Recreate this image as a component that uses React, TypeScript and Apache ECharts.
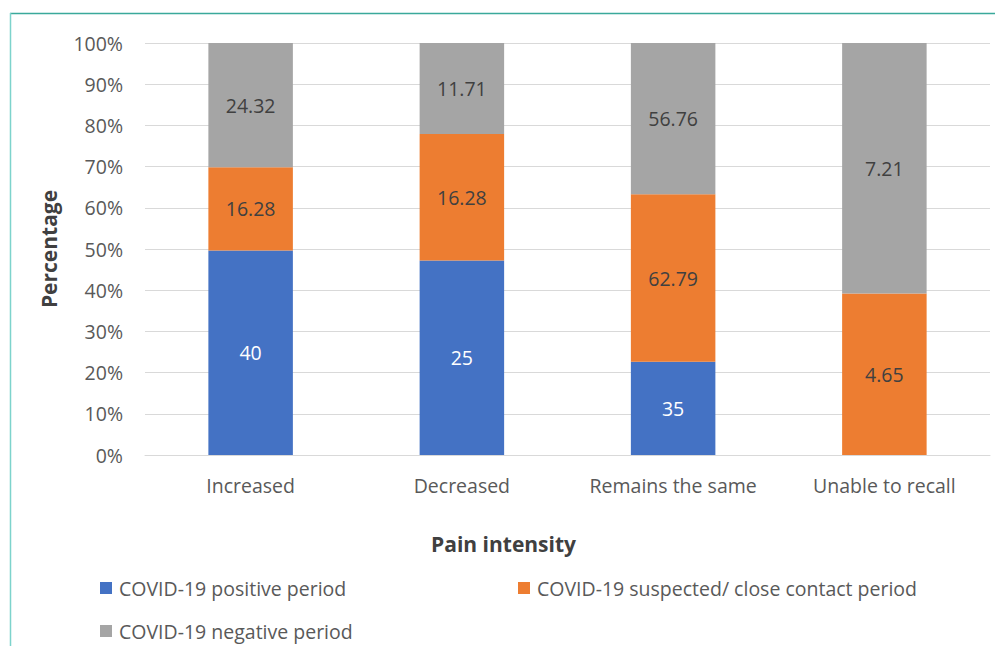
import React, { useEffect, useRef } from "react";
import * as echarts from "echarts";

const categories = ["Increased", "Decreased", "Remains the same", "Unable to recall"];
const seriesNames = [
  "COVID-19 positive period",
  "COVID-19 suspected/ close contact period",
  "COVID-19 negative period",
];
const positiveValues = [40, 25, 35, 0];
const suspectedValues = [16.28, 16.28, 62.79, 4.65];
const negativeValues = [24.32, 11.71, 56.76, 7.21];
const yTicks = ["0%", "10%", "20%", "30%", "40%", "50%", "60%", "70%", "80%", "90%", "100%"];

const colors = ["#4472C4", "#ED7D31", "#A5A5A5"];
const labelColors = ["#ffffff", "#404040", "#404040"];
const FONT = "'Open Sans', sans-serif";
const FS = 19.5;

export default function App() {
  const ref = useRef<HTMLDivElement>(null);
  useEffect(() => {
    if (!ref.current) return;
    const chart = echarts.init(ref.current, null, { renderer: "svg" });
    const raw = [positiveValues, suspectedValues, negativeValues];
    const totals = categories.map((_, i) => raw.reduce((s, arr) => s + arr[i], 0));
    const series = raw.map((arr, si) => ({
      name: seriesNames[si],
      type: "bar",
      stack: "total",
      barWidth: "40%",
      itemStyle: { color: colors[si] },
      data: arr.map((v, i) => (v / totals[i]) * 100),
      label: {
        show: true,
        position: "inside",
        color: labelColors[si],
        fontFamily: FONT,
        fontSize: FS,
        formatter: (p: any) => {
          const v = arr[p.dataIndex];
          return v === 0 ? "" : String(v);
        },
      },
    }));
    const legendText = { fontFamily: FONT, fontSize: FS, color: "#595959", padding: [0, 0, 0, 2] };
    const legendBase = { itemWidth: 12, itemHeight: 12, icon: "rect", textStyle: legendText };
    chart.setOption({
      animation: false,
      textStyle: { fontFamily: FONT },
      grid: { left: 145, right: 5, top: 43, bottom: 191 },
      legend: [
        { ...legendBase, data: [seriesNames[0]], left: 95, top: 573 },
        { ...legendBase, data: [seriesNames[1]], left: 513, top: 573 },
        { ...legendBase, data: [seriesNames[2]], left: 95, top: 616 },
      ],
      xAxis: {
        type: "category",
        data: categories,
        name: "Pain intensity",
        nameLocation: "middle",
        nameGap: 78,
        nameTextStyle: {
          fontFamily: FONT,
          fontSize: 21,
          fontWeight: "bold",
          color: "#404040",
          padding: [0, 128, 0, 0],
        },
        axisLine: { lineStyle: { color: "#d9d9d9" } },
        axisTick: { show: false },
        axisLabel: { fontFamily: FONT, fontSize: FS, color: "#595959", margin: 20, interval: 0 },
      },
      yAxis: {
        type: "value",
        min: 0,
        max: 100,
        interval: 10,
        name: "Percentage",
        nameLocation: "middle",
        nameGap: 86,
        nameTextStyle: { fontFamily: FONT, fontSize: 21, fontWeight: "bold", color: "#404040" },
        axisLine: { show: false },
        axisTick: { show: false },
        splitLine: { lineStyle: { color: "#d9d9d9", width: 1 } },
        axisLabel: {
          fontFamily: FONT,
          fontSize: FS,
          color: "#595959",
          margin: 22,
          formatter: (v: number) => yTicks[Math.round(v / 10)],
        },
      },
      graphic: [
        {
          type: "line",
          shape: { x1: 10, y1: 13.5, x2: 995, y2: 13.5 },
          style: { stroke: "#3aa99b", lineWidth: 1.5 },
        },
        {
          type: "line",
          shape: { x1: 10.5, y1: 13, x2: 10.5, y2: 646 },
          style: { stroke: "#7dd3cc", lineWidth: 1.5 },
        },
      ],
      series,
    });
    return () => chart.dispose();
  }, []);
  return (
    <div
      ref={ref}
      style={{ position: "absolute", left: 0, top: 0, width: 995, height: 646, background: "#fff" }}
    />
  );
}
